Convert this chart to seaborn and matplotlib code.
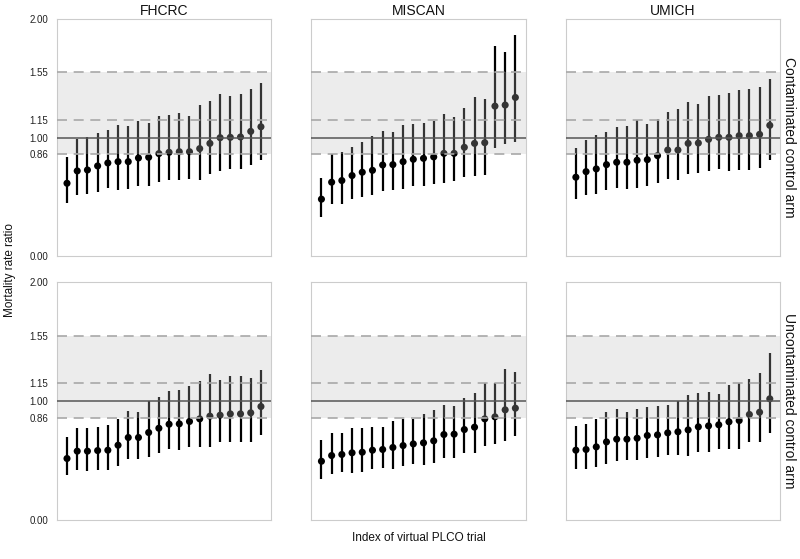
"""Mortality rate ratio of virtual PLCO trials, by model and control-arm type."""

import matplotlib

matplotlib.use("Agg")

import matplotlib.pyplot as plt
import numpy as np
import pandas as pd
import seaborn as sns

models = ["FHCRC", "MISCAN", "UMICH"]
arms = ["Contaminated control arm", "Uncontaminated control arm"]
y_ticks = [0.00, 0.86, 1.00, 1.15, 1.55, 2.00]
band = (0.86, 1.55)
dashed_refs = [0.86, 1.15, 1.55]
null_ref = 1.00

# ---- contaminated control arm ----
fhcrc_cont_est = [0.616, 0.720, 0.728, 0.762, 0.787, 0.798, 0.798, 0.829, 0.835, 0.866,
                  0.877, 0.882, 0.882, 0.908, 0.952, 1.000, 1.003, 1.006, 1.053, 1.092]
fhcrc_cont_hi = [0.835, 0.986, 1.003, 1.036, 1.064, 1.106, 1.098, 1.140, 1.126, 1.182,
                 1.188, 1.210, 1.185, 1.272, 1.311, 1.367, 1.350, 1.370, 1.412, 1.465]
fhcrc_cont_lo = [0.448, 0.515, 0.529, 0.543, 0.574, 0.563, 0.571, 0.597, 0.597, 0.630,
                 0.641, 0.641, 0.650, 0.644, 0.692, 0.723, 0.739, 0.737, 0.770, 0.812]

miscan_cont_est = [0.482, 0.625, 0.639, 0.681, 0.709, 0.725, 0.770, 0.773, 0.798, 0.818,
                   0.826, 0.838, 0.868, 0.868, 0.919, 0.952, 0.958, 1.266, 1.275, 1.339]
miscan_cont_hi = [0.658, 0.860, 0.877, 0.924, 0.966, 1.014, 1.056, 1.050, 1.106, 1.115,
                  1.126, 1.140, 1.199, 1.176, 1.252, 1.345, 1.325, 1.773, 1.720, 1.868]
miscan_cont_lo = [0.336, 0.445, 0.445, 0.487, 0.501, 0.515, 0.552, 0.560, 0.566, 0.597,
                  0.597, 0.611, 0.622, 0.636, 0.667, 0.678, 0.686, 0.910, 0.947, 0.961]

umich_cont_est = [0.667, 0.714, 0.737, 0.773, 0.793, 0.793, 0.810, 0.815, 0.849, 0.896,
                  0.896, 0.952, 0.955, 0.986, 1.003, 1.003, 1.017, 1.017, 1.028, 1.104]
umich_cont_hi = [0.916, 0.980, 1.022, 1.050, 1.087, 1.098, 1.148, 1.115, 1.160, 1.218,
                 1.241, 1.297, 1.283, 1.350, 1.359, 1.378, 1.406, 1.409, 1.423, 1.493]
umich_cont_lo = [0.482, 0.521, 0.529, 0.560, 0.574, 0.571, 0.574, 0.594, 0.616, 0.655,
                 0.644, 0.695, 0.706, 0.717, 0.734, 0.723, 0.728, 0.725, 0.745, 0.812]

# ---- uncontaminated control arm ----
fhcrc_unc_est = [0.517, 0.579, 0.579, 0.584, 0.587, 0.629, 0.694, 0.694, 0.736, 0.772,
                 0.806, 0.809, 0.829, 0.851, 0.874, 0.882, 0.893, 0.893, 0.902, 0.955]
fhcrc_unc_hi = [0.697, 0.772, 0.778, 0.784, 0.798, 0.854, 0.919, 0.910, 1.000, 1.037,
                1.084, 1.096, 1.124, 1.166, 1.225, 1.180, 1.208, 1.213, 1.197, 1.264]
fhcrc_unc_lo = [0.374, 0.419, 0.413, 0.421, 0.421, 0.458, 0.514, 0.517, 0.528, 0.567,
                0.598, 0.587, 0.610, 0.618, 0.618, 0.654, 0.654, 0.654, 0.660, 0.719]

miscan_unc_est = [0.494, 0.542, 0.551, 0.565, 0.570, 0.587, 0.593, 0.610, 0.626, 0.640,
                  0.649, 0.666, 0.719, 0.722, 0.761, 0.781, 0.851, 0.868, 0.927, 0.941]
miscan_unc_hi = [0.677, 0.730, 0.733, 0.778, 0.772, 0.784, 0.781, 0.837, 0.851, 0.854,
                 0.888, 0.927, 0.969, 0.963, 1.025, 1.073, 1.149, 1.154, 1.270, 1.244]
miscan_unc_lo = [0.343, 0.388, 0.402, 0.396, 0.407, 0.430, 0.441, 0.427, 0.455, 0.469,
                 0.463, 0.478, 0.525, 0.525, 0.562, 0.562, 0.626, 0.643, 0.663, 0.708]

umich_unc_est = [0.587, 0.593, 0.615, 0.657, 0.680, 0.680, 0.688, 0.711, 0.716, 0.733,
                 0.742, 0.758, 0.784, 0.792, 0.801, 0.826, 0.837, 0.888, 0.907, 1.020]
umich_unc_hi = [0.792, 0.809, 0.851, 0.913, 0.933, 0.913, 0.933, 0.955, 0.958, 0.969,
                1.003, 1.048, 1.067, 1.079, 1.062, 1.135, 1.152, 1.191, 1.236, 1.410]
umich_unc_lo = [0.430, 0.430, 0.447, 0.469, 0.492, 0.506, 0.506, 0.525, 0.531, 0.548,
                0.548, 0.542, 0.570, 0.576, 0.598, 0.598, 0.601, 0.654, 0.657, 0.730]

panels = {
    (arms[0], "FHCRC"): (fhcrc_cont_est, fhcrc_cont_lo, fhcrc_cont_hi),
    (arms[0], "MISCAN"): (miscan_cont_est, miscan_cont_lo, miscan_cont_hi),
    (arms[0], "UMICH"): (umich_cont_est, umich_cont_lo, umich_cont_hi),
    (arms[1], "FHCRC"): (fhcrc_unc_est, fhcrc_unc_lo, fhcrc_unc_hi),
    (arms[1], "MISCAN"): (miscan_unc_est, miscan_unc_lo, miscan_unc_hi),
    (arms[1], "UMICH"): (umich_unc_est, umich_unc_lo, umich_unc_hi),
}

rows = []
for (arm, model), (est, lo, hi) in panels.items():
    for i, (e, l, h) in enumerate(zip(est, lo, hi), start=1):
        rows.append({"arm": arm, "model": model, "trial": i, "rr": e, "lo": l, "hi": h})
df = pd.DataFrame(rows)

sns.set_theme(style="white")
plt.rcParams["font.family"] = ["Liberation Sans", "DejaVu Sans"]


def draw_panel(data, **kwargs):
    ax = plt.gca()
    ax.vlines(data["trial"], data["lo"], data["hi"], color="black", linewidth=1.6, zorder=2)
    sns.scatterplot(data=data, x="trial", y="rr", color="black", s=26,
                    edgecolor="none", ax=ax, zorder=3)
    # translucent band sits over the marks, so they turn grey inside it
    ax.axhspan(*band, color="#bebebe", alpha=0.28, linewidth=0, zorder=4)
    for ref in dashed_refs:
        ax.axhline(ref, color="#a8a8a8", linewidth=1.2, dashes=(6, 4), zorder=5)
    ax.axhline(null_ref, color="#555555", linewidth=1.1, zorder=5)


g = sns.FacetGrid(df, row="arm", col="model", row_order=arms, col_order=models,
                  height=2.4, aspect=0.9, despine=False, sharex=True, sharey=True)
g.map_dataframe(draw_panel)
g.set_titles("")
g.set(xlim=(0, 21), ylim=(0, 2), xticks=[], yticks=y_ticks, xlabel="", ylabel="")

for (arm, model), ax in g.axes_dict.items():
    ax.set_yticklabels([f"{t:.2f}" for t in y_ticks])
    ax.tick_params(axis="y", length=0, pad=6, labelsize=7, colors="#222222")
    for sp in ax.spines.values():
        sp.set_color("#cccccc")
        sp.set_linewidth(0.8)
    if arm == arms[0]:
        ax.set_title(model, fontsize=10, pad=3, color="#111111")
    if model == models[-1]:
        ax.text(1.01, 0.5, arm, transform=ax.transAxes, rotation=270,
                ha="left", va="center", fontsize=10, color="#111111")

fig = g.figure
fig.set_size_inches(8, 5.59)
fig.subplots_adjust(left=0.071, right=0.975, top=0.966, bottom=0.07,
                    wspace=0.187, hspace=0.11)
fig.text(0.523, 0.038, "Index of virtual PLCO trial", ha="center", va="center",
         fontsize=8.5, color="#111111")
fig.text(0.013, 0.517, "Mortality rate ratio", ha="center", va="center",
         rotation=90, fontsize=8.5, color="#111111")

fig.savefig("out.png", dpi=100)
plt.close(fig)
